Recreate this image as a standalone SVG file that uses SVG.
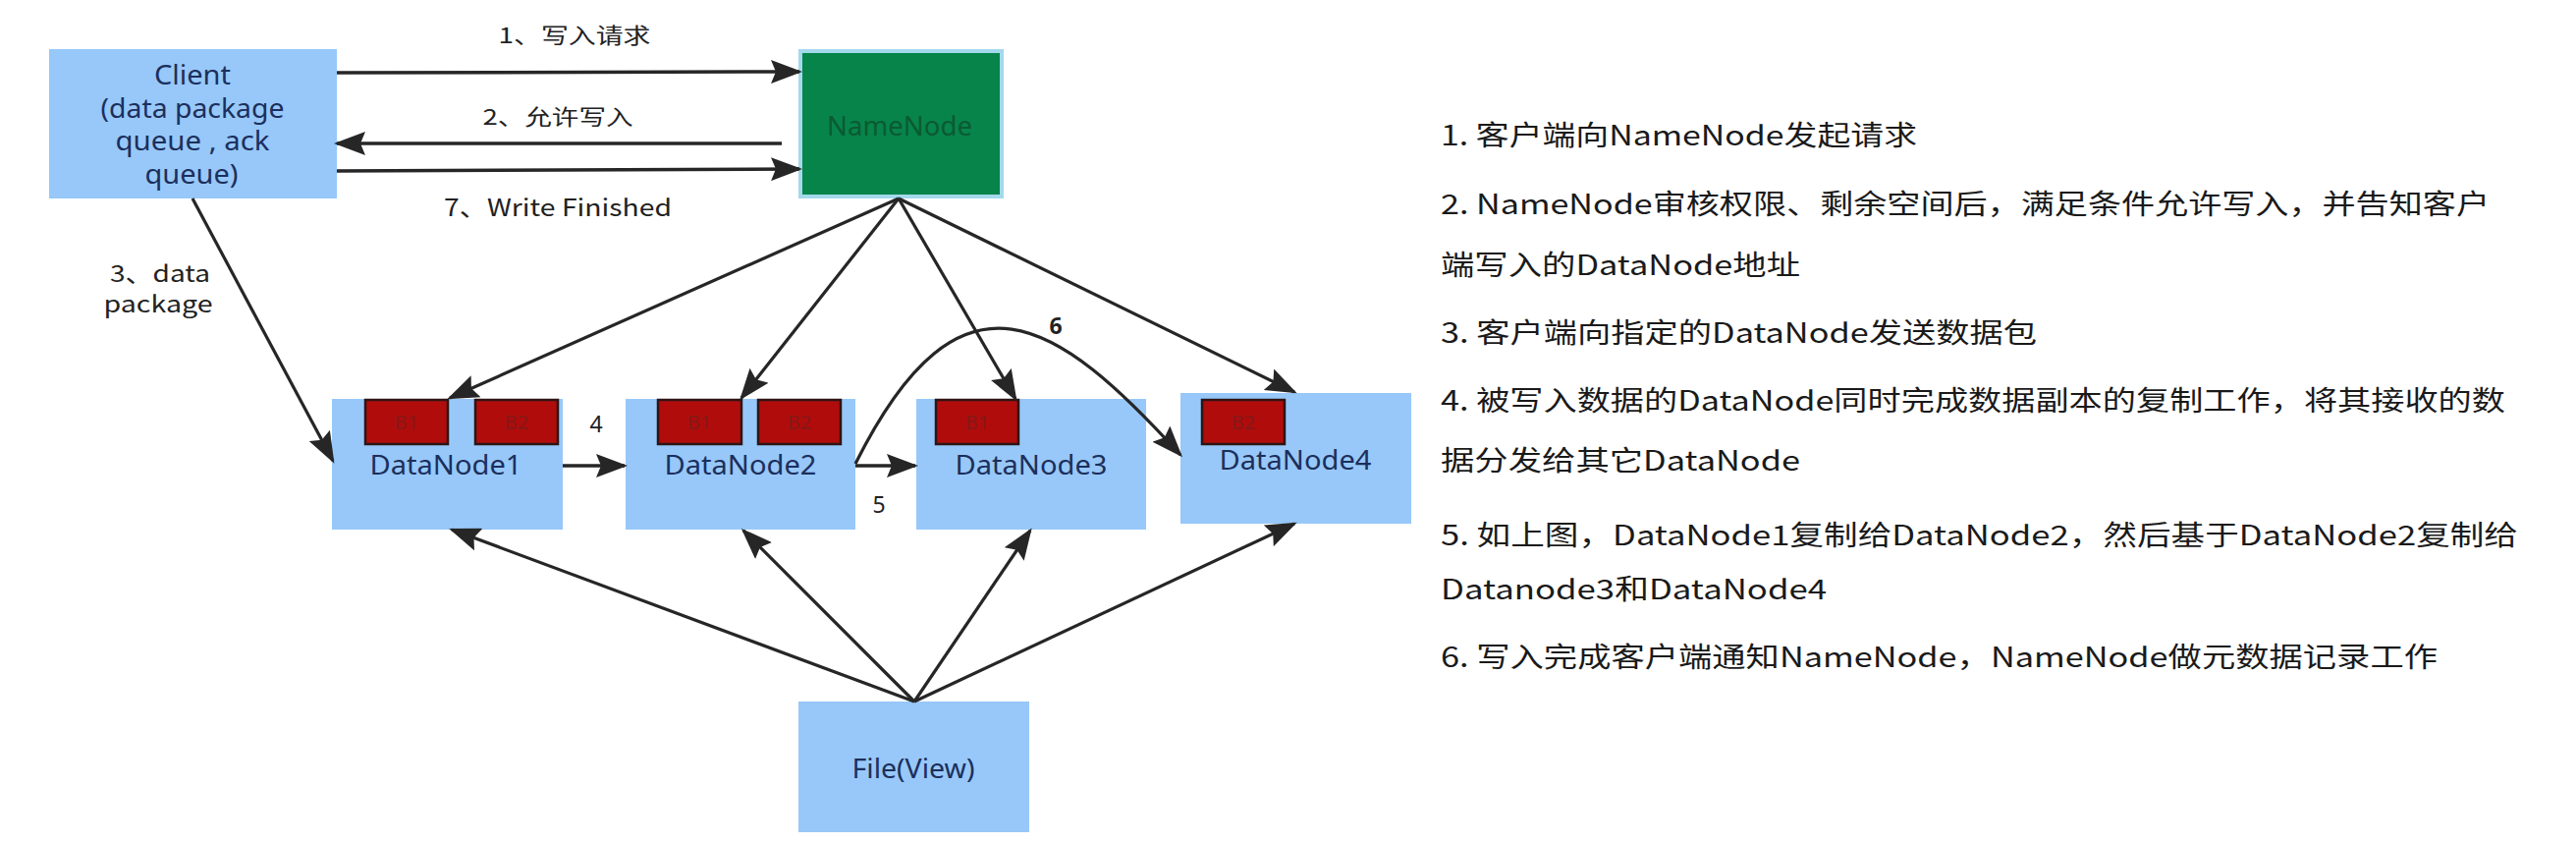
<svg xmlns="http://www.w3.org/2000/svg" width="2623" height="858" viewBox="0 0 2623 858">
<defs>
<marker id="ah" markerUnits="userSpaceOnUse" markerWidth="32" markerHeight="24" viewBox="0 0 32 24" refX="29" refY="12" orient="auto">
<path d="M0,0 L32,12 L0,24 L5,12 Z" fill="#262626"/>
</marker>
</defs>
<style>
.blue{fill:#97c8f9}
.blk{fill:#b00c0c;stroke:#2e1414;stroke-width:2.5}
.blkt{font-family:"Noto Sans",sans-serif;font-size:20px;fill:#861818;text-anchor:middle}
.nl{font-family:"Noto Sans","Noto Sans CJK SC",sans-serif;font-size:27px;fill:#1c2f5c;text-anchor:middle}
.lbl{font-family:"Noto Sans CJK SC",sans-serif;font-size:22px;fill:#222;text-anchor:middle}
.num{font-family:"Noto Sans",sans-serif;font-size:23px;fill:#222;text-anchor:middle}
.note{font-family:"Noto Sans CJK SC",sans-serif;font-size:28px;fill:#1a1a1a}
.c{fill:none;stroke:#262626;stroke-width:3.5;marker-end:url(#ah)}
.t{fill:none;stroke:#262626;stroke-width:3.2;marker-end:url(#ah)}
</style>
<rect width="2623" height="858" fill="#ffffff"/>

<g id="client">
<rect class="blue" x="50" y="50" width="293" height="152"/>
<text class="nl" x="196" y="86" textLength="78" lengthAdjust="spacingAndGlyphs">Client</text>
<text class="nl" x="196" y="120" textLength="187" lengthAdjust="spacingAndGlyphs">(data package</text>
<text class="nl" x="196" y="153" textLength="157" lengthAdjust="spacingAndGlyphs">queue , ack</text>
<text class="nl" x="195" y="187" textLength="95" lengthAdjust="spacingAndGlyphs">queue)</text>
</g>

<g id="namenode">
<rect x="815" y="52" width="205" height="148" fill="#07844a" stroke="#a4d9ec" stroke-width="4"/>
<text class="nl" x="916" y="138" textLength="148" lengthAdjust="spacingAndGlyphs" style="fill:#0b5a30">NameNode</text>
</g>

<g id="datanode1">
<rect class="blue" x="338" y="406" width="235" height="133"/>
<rect class="blk" x="372" y="407" width="84" height="45"/>
<text class="blkt" x="414" y="437">B1</text>
<rect class="blk" x="484" y="407" width="84" height="45"/>
<text class="blkt" x="526" y="437">B2</text>
<text class="nl" x="454" y="483" textLength="155" lengthAdjust="spacingAndGlyphs">DataNode1</text>
</g>

<g id="datanode2">
<rect class="blue" x="637" y="406" width="234" height="133"/>
<rect class="blk" x="670" y="407" width="85" height="45"/>
<text class="blkt" x="712" y="437">B1</text>
<rect class="blk" x="772" y="407" width="84" height="45"/>
<text class="blkt" x="814" y="437">B2</text>
<text class="nl" x="754" y="483" textLength="155" lengthAdjust="spacingAndGlyphs">DataNode2</text>
</g>

<g id="datanode3">
<rect class="blue" x="933" y="406" width="234" height="133"/>
<rect class="blk" x="953" y="407" width="84" height="45"/>
<text class="blkt" x="995" y="437">B1</text>
<text class="nl" x="1050" y="483" textLength="155" lengthAdjust="spacingAndGlyphs">DataNode3</text>
</g>

<g id="datanode4">
<rect class="blue" x="1202" y="400" width="235" height="133"/>
<rect class="blk" x="1224" y="407" width="84" height="45"/>
<text class="blkt" x="1266" y="437">B2</text>
<text class="nl" x="1319" y="478" textLength="155" lengthAdjust="spacingAndGlyphs">DataNode4</text>
</g>

<g id="file">
<rect class="blue" x="813" y="714" width="235" height="133"/>
<text class="nl" x="930" y="792" textLength="125" lengthAdjust="spacingAndGlyphs">File(View)</text>
</g>

<g id="connectors">
<path class="c" d="M343,74 L814,73"/>
<path class="c" d="M796,146 L343,146"/>
<path class="c" d="M343,174 L814,172"/>
<path class="t" d="M196,202 L339,469"/>
<path class="t" d="M915,202 L458,405"/>
<path class="t" d="M915,202 L755,405"/>
<path class="t" d="M915,202 L1034,406"/>
<path class="t" d="M915,202 L1318,399"/>
<path class="c" d="M573,474 L636,474"/>
<path class="c" d="M871,474 L932,474"/>
<path class="t" d="M871,472 C979,256 1077,326 1202,463"/>
<path class="t" d="M931,714 L460,539"/>
<path class="t" d="M931,714 L757,540"/>
<path class="t" d="M931,714 L1049,540"/>
<path class="t" d="M931,714 L1318,533"/>
<text class="lbl" x="585" y="44" textLength="155" lengthAdjust="spacingAndGlyphs">1、写入请求</text>
<text class="lbl" x="568" y="127" textLength="153" lengthAdjust="spacingAndGlyphs">2、允许写入</text>
<text class="lbl" x="568" y="220" textLength="232" lengthAdjust="spacingAndGlyphs" style="font-size:24px">7、Write Finished</text>
<text class="lbl" x="163" y="287" textLength="102" lengthAdjust="spacingAndGlyphs" style="font-size:23px">3、data</text>
<text class="lbl" x="161" y="318" textLength="111" lengthAdjust="spacingAndGlyphs" style="font-size:23px">package</text>
<text class="num" x="607" y="440">4</text>
<text class="num" x="895" y="522">5</text>
<text class="num" x="1075" y="340" style="font-weight:bold">6</text>
</g>

<g id="notes">
<text class="note" x="1467" y="148" textLength="485" lengthAdjust="spacingAndGlyphs">1. 客户端向NameNode发起请求</text>
<text class="note" x="1467" y="218" textLength="1068" lengthAdjust="spacingAndGlyphs">2. NameNode审核权限、剩余空间后，满足条件允许写入，并告知客户</text>
<text class="note" x="1467" y="280" textLength="366" lengthAdjust="spacingAndGlyphs">端写入的DataNode地址</text>
<text class="note" x="1467" y="349" textLength="607" lengthAdjust="spacingAndGlyphs">3. 客户端向指定的DataNode发送数据包</text>
<text class="note" x="1467" y="418" textLength="1084" lengthAdjust="spacingAndGlyphs">4. 被写入数据的DataNode同时完成数据副本的复制工作，将其接收的数</text>
<text class="note" x="1467" y="479" textLength="366" lengthAdjust="spacingAndGlyphs">据分发给其它DataNode</text>
<text class="note" x="1467" y="555" textLength="1097" lengthAdjust="spacingAndGlyphs">5. 如上图，DataNode1复制给DataNode2，然后基于DataNode2复制给</text>
<text class="note" x="1467" y="610" textLength="393" lengthAdjust="spacingAndGlyphs">Datanode3和DataNode4</text>
<text class="note" x="1467" y="679" textLength="1015" lengthAdjust="spacingAndGlyphs">6. 写入完成客户端通知NameNode，NameNode做元数据记录工作</text>
</g>
</svg>
